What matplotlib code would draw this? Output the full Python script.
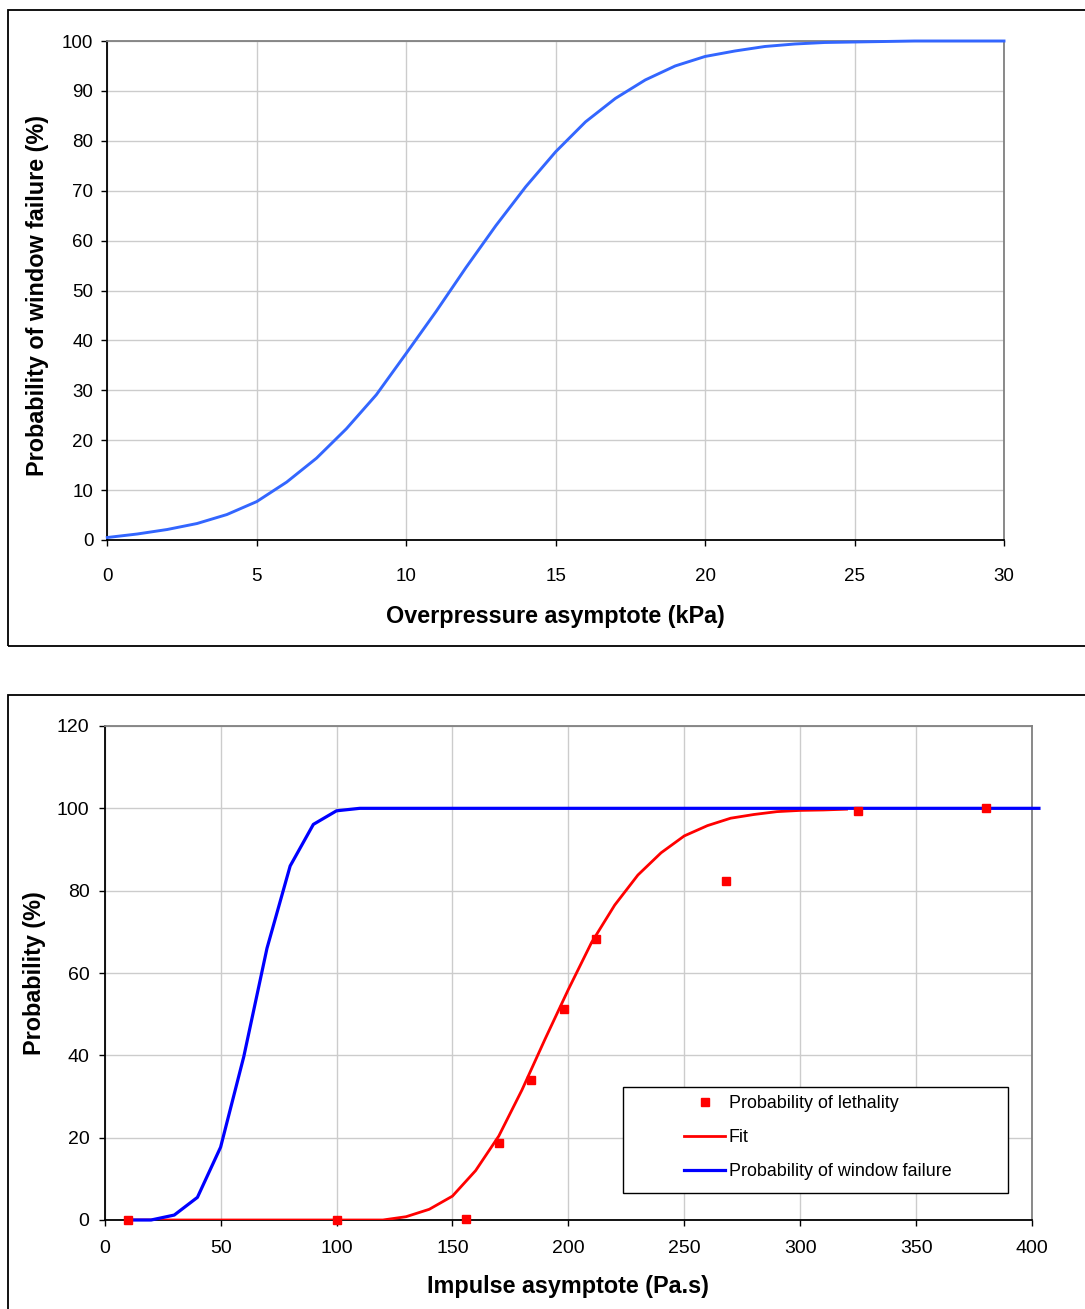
import matplotlib
matplotlib.use("Agg")
import matplotlib.pyplot as plt
from matplotlib.patches import Rectangle
from matplotlib.lines import Line2D

plt.rcParams['font.family'] = ['Liberation Sans', 'DejaVu Sans']

# ---------------- data: top chart ----------------
overpressure_kpa = list(range(0, 31))
p_window_overpressure = [0.5, 1.2, 2.1, 3.3, 5.1, 7.7, 11.6, 16.4, 22.3, 29.1,
                         37.4, 45.8, 54.6, 63.0, 70.8, 77.8, 83.8, 88.5, 92.2, 95.0,
                         96.9, 98.0, 98.9, 99.4, 99.7, 99.8, 99.9, 100, 100, 100, 100]

# ---------------- data: bottom chart ----------------
impulse_window = [10, 20, 30, 40, 50, 60, 70, 80, 90, 100, 110, 403]
p_window_impulse = [0, 0, 1.2, 5.5, 17.7, 39.7, 66.0, 86.0, 96.1, 99.4, 100, 100]

impulse_fit = [10, 20, 30, 40, 50, 60, 70, 80, 90, 100, 110, 120, 130, 140, 150, 160,
               170, 180, 190, 200, 210, 220, 230, 240, 250, 260, 270, 280, 290, 300,
               310, 320]
p_fit = [0, 0, 0, 0, 0, 0, 0, 0, 0, 0, 0, 0, 0.8, 2.6, 5.8, 12.0,
         20.4, 31.6, 44.0, 56.0, 67.4, 76.5, 83.8, 89.2, 93.3, 95.8, 97.6, 98.5, 99.2, 99.5,
         99.6, 99.8]

impulse_lethality = [10, 100, 156, 170, 184, 198, 212, 268, 325, 380]
p_lethality = [0, 0, 0.3, 18.6, 33.9, 51.2, 68.3, 82.3, 99.4, 100]

top_xticks = [0, 5, 10, 15, 20, 25, 30]
top_yticks = [0, 10, 20, 30, 40, 50, 60, 70, 80, 90, 100]
bot_xticks = [0, 50, 100, 150, 200, 250, 300, 350, 400]
bot_yticks = [0, 20, 40, 60, 80, 100, 120]

legend_labels = ["Probability of lethality", "Fit", "Probability of window failure"]

W, H = 1085, 1309
fig = plt.figure(figsize=(W / 100, H / 100), dpi=100)


def ax_rect(x0, x1, ytop, ybot):
    return [x0 / W, (H - ybot) / H, (x1 - x0) / W, (ybot - ytop) / H]


def style_axes(ax, tick_fs, pad_x, pad_y):
    for s in ['left', 'bottom']:
        ax.spines[s].set_color('black')
        ax.spines[s].set_linewidth(1.3)
    for s in ['top', 'right']:
        ax.spines[s].set_color('#808080')
        ax.spines[s].set_linewidth(1.3)
    ax.grid(True, color='#cccccc', linewidth=1.0)
    ax.set_axisbelow(True)
    ax.tick_params(axis='both', direction='out', length=4.5, width=1.0,
                   color='black', labelsize=tick_fs)
    ax.tick_params(axis='x', pad=pad_x)
    ax.tick_params(axis='y', pad=pad_y)


# ---------------- top chart ----------------
ax1 = fig.add_axes(ax_rect(107.3, 1004, 41, 540))
ax1.plot(overpressure_kpa, p_window_overpressure, color='#3366FF', linewidth=2.1,
         clip_on=False, zorder=3)
ax1.set_xlim(0, 30)
ax1.set_ylim(0, 100)
ax1.set_xticks(top_xticks)
ax1.set_yticks(top_yticks)
style_axes(ax1, 13.5, 16, 5.5)
ax1.set_xlabel("Overpressure asymptote (kPa)", fontsize=16.8, fontweight='bold')
ax1.set_ylabel("Probability of window failure (%)", fontsize=16.8, fontweight='bold')
ax1.xaxis.set_label_coords(0.5, -0.130)
ax1.yaxis.set_label_coords(-0.065, 0.49)

# ---------------- bottom chart ----------------
ax2 = fig.add_axes(ax_rect(104.7, 1032, 726, 1220))
ax2.plot(impulse_fit, p_fit, color='#FF0000', linewidth=2.0, zorder=3, label=legend_labels[1])
ax2.plot(impulse_window, p_window_impulse, color='#0000FF', linewidth=2.3, zorder=4,
         clip_on=False, label=legend_labels[2])
ax2.plot(impulse_lethality, p_lethality, linestyle='none', marker='s', markersize=6,
         color='#FF0000', zorder=5, clip_on=False, label=legend_labels[0])
ax2.set_xlim(0, 400)
ax2.set_ylim(0, 120)
ax2.set_xticks(bot_xticks)
ax2.set_yticks(bot_yticks)
style_axes(ax2, 14, 10, 6.5)
ax2.set_xlabel("Impulse asymptote (Pa.s)", fontsize=16.8, fontweight='bold')
ax2.set_ylabel("Probability (%)", fontsize=16.8, fontweight='bold')
ax2.xaxis.set_label_coords(0.5, -0.111)
ax2.yaxis.set_label_coords(-0.063, 0.5)

# legend: frame as a rectangle, entries without frame
lx0, lx1, ly0, ly1 = 623, 1008, 1087, 1193
ax2.add_patch(Rectangle(((lx0 - 104.7) / 927.3, (1220 - ly1) / 494),
                        (lx1 - lx0) / 927.3, (ly1 - ly0) / 494,
                        transform=ax2.transAxes, facecolor='white', edgecolor='black',
                        linewidth=1.0, zorder=6, clip_on=False))
handles = [
    Line2D([], [], linestyle='none', marker='s', markersize=6, color='#FF0000'),
    Line2D([], [], color='#FF0000', linewidth=2.0),
    Line2D([], [], color='#0000FF', linewidth=2.3),
]
leg = ax2.legend(handles, legend_labels, loc='center left',
                 bbox_to_anchor=((684 - 104.7) / 927.3, (1220 - 1137.5) / 494),
                 frameon=False, fontsize=12.9, handlelength=2.3, handletextpad=0.2,
                 labelspacing=0.94, borderpad=0, borderaxespad=0)
leg.set_zorder(7)

# ---------------- outer frames ----------------
fig.add_artist(Rectangle((8 / W, (H - 646) / H), 1.1, (646 - 10) / H,
                         transform=fig.transFigure, fill=False, edgecolor='black',
                         linewidth=1.3))
fig.add_artist(Rectangle((8 / W, -0.05), 1.1, (H - 695) / H + 0.05,
                         transform=fig.transFigure, fill=False, edgecolor='black',
                         linewidth=1.3))

fig.savefig("out.png", dpi=100)
